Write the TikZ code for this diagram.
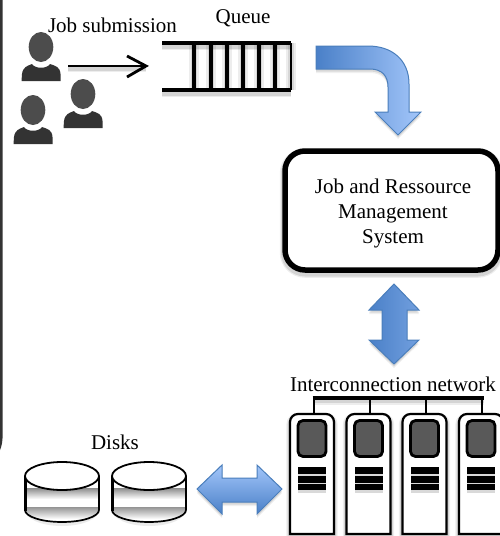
\documentclass[tikz,border=0pt]{standalone}
\usepackage{fontspec}
\setmainfont{Liberation Serif}
\usetikzlibrary{calc}
\definecolor{arrowdark}{HTML}{4A80C8}
\definecolor{arrowlight}{HTML}{A3C6FA}
\definecolor{arrowline}{HTML}{4A7EBB}
\definecolor{slate}{HTML}{595959}
\tikzset{
  lbl/.style={font=\fontsize{21}{25}\selectfont, inner sep=0pt, outer sep=0pt, align=center, text=black},
  softline/.style={
    preaction={draw=black,draw opacity=.07,line width=#1+5pt,transform canvas={yshift=-2.5pt}},
    preaction={draw=black,draw opacity=.10,line width=#1+2.5pt,transform canvas={yshift=-2.5pt}},
    line width=#1,draw=black},
  softfill/.style={
    preaction={fill=black,fill opacity=.06,transform canvas={yshift=-4pt}},
    preaction={fill=black,fill opacity=.10,transform canvas={yshift=-2.5pt}}},
  mgmtbox/.style={draw=black,fill=white,softline=5.5pt,rounded corners=20pt,minimum width=213pt,minimum height=119pt,inner sep=0pt,outer sep=0pt},
  serverslot/.style={minimum width=44pt,minimum height=120pt,inner sep=0pt,outer sep=0pt},
  serverline/.style={fill=white,softline=2.2pt,line join=miter},
  cpubox/.style={draw=black,fill=slate,line width=2.8pt,rounded corners=5pt,minimum width=28pt,minimum height=36pt,inner sep=0pt,outer sep=0pt},
  stripe/.style={fill=black,draw=none,minimum width=28pt,minimum height=#1,inner sep=0pt,outer sep=0pt,
    preaction={fill=black,fill opacity=.15,transform canvas={yshift=-2.5pt}}},
  blockarrow/.style={draw=arrowline,line width=1pt,softfill},
  bus/.style={softline=3.2pt},
  drop/.style={line width=2pt,draw=black},
  qedge/.style={softline=3.6pt,line cap=butt},
  qbar/.style={
    preaction={draw=black,draw opacity=.07,line width=#1+7pt},
    preaction={draw=black,draw opacity=.09,line width=#1+3.5pt},
    line width=#1,draw=black},
  person/.pic={
    \fill[fill=slate!85!black] (0,0) ellipse [x radius=12.3,y radius=15];
    \fill[fill=black!80] (-19.5,34) -- (-19,27) .. controls (-18,20) and (-14,19) .. (-9,17)
      .. controls (-6,22) and (6,22) .. (9,17) .. controls (15,19) and (19,20) .. (19.5,27) -- (19.5,34) -- cycle;
  }
}
\newcommand{\diskshape}[2]{% centre x, name
  \coordinate (#2) at (#1,476);
  \fill[black,opacity=.08] (#1-37,510) arc[start angle=180,end angle=0,x radius=37,y radius=16] -- (#1+37,510) -- cycle;
  \fill[white] (#1-37,476) -- (#1-37,510) arc[start angle=180,end angle=0,x radius=37,y radius=12] -- (#1+37,476) -- cycle;
  \shade[top color=black!45,bottom color=white] (#1-36,488) rectangle (#1+36,499);
  \begin{scope}
    \clip (#1-37,507) -- (#1-37,510) arc[start angle=180,end angle=0,x radius=37,y radius=12] -- (#1+37,507) -- cycle;
    \shade[top color=black!42,bottom color=white] (#1-37,507) rectangle (#1+37,519);
  \end{scope}
  \draw[line width=1.7pt] (#1-37,510) arc[start angle=180,end angle=0,x radius=37,y radius=12];
  \draw[line width=3.2pt] (#1-36.5,476) -- (#1-36.5,511);
  \draw[line width=2.2pt] (#1+37,476) -- (#1+37,510);
  \draw[fill=white,line width=1.8pt] (#1,476) ellipse[x radius=37,y radius=14];
}
\newcommand{\serverunit}[2]{% name, centre x
  \node[serverslot] (#1) at (#2,474) {};
  \draw[serverline] (#1.south west) [rounded corners=8pt] -- (#1.north west) -- (#1.north east) [sharp corners] -- (#1.south east) -- cycle;
  \node[cpubox] (#1cpu) at (#2,438.5) {};
  \node[stripe=7pt] (#1a) at (#2,470.5) {};
  \node[stripe=7pt] (#1b) at (#2,479.5) {};
  \node[stripe=6pt] (#1c) at (#2,487) {};
}
\begin{document}
\begin{tikzpicture}[x=1pt,y=-1pt]
\useasboundingbox (0,0) rectangle (500,536);
\clip (0,0) rectangle (500,536);
\fill[white] (0,0) rectangle (500,536);
% left edge of the slide
\fill[black!80] (0,0) -- (2.7,0) -- (2.7,432) .. controls (2.7,442) and (1.5,447) .. (0,450) -- cycle;
% people
\pic at (41,47) {person};
\pic at (83,94) {person};
\pic at (33,110) {person};
% labels
\node[lbl] (jobsub) at (112.5,25) {Job submission};
\node[lbl] (queuelabel) at (243,18) {Queue};
% queue
\coordinate (qtl) at (162,43);
\coordinate (qtr) at (291,43);
\coordinate (qbl) at (162,90);
\coordinate (qbr) at (291,90);
\foreach \qx in {194,211,227,243,259,275}
  \draw[qbar=3.4pt] (\qx,43) -- (\qx,90);
\draw[qbar=2.6pt] (291,43) -- (291,90);
\draw[qedge] (qtl) -- (qtr);
\draw[qedge] (qbl) -- (qbr);
% submission arrow
\coordinate (subfrom) at (68,66);
\coordinate (subto) at (146,66);
\draw[softline=2.8pt] (subfrom) -- (subto);
\draw[line width=2.8pt,line join=miter] (127,56) -- (subto) -- (127,77);
% bent arrow
\path[blockarrow,left color=arrowdark,right color=arrowlight]
  (316,46) -- (368,46) .. controls (392,46) and (409,60) .. (409,84) -- (409,112) -- (421,112) -- (398,135)
  -- (375,112) -- (388,112) -- (388,87) .. controls (388,76) and (382,69) .. (370,69) -- (316,69) -- cycle;
% management system
\node[mgmtbox] (mgmt) at (391.5,210.5) {};
\node[lbl] (mgmttext) at (393,213.5) {Job and Ressource\\Management\\System};
% vertical double arrow
\coordinate (vtop) at (394,284);
\coordinate (vbot) at (394,364);
\path[blockarrow,left color=arrowdark,right color=arrowdark!55!arrowlight]
  (vtop) -- (419,310) -- (407,310) -- (407,340) -- (419,340) -- (vbot) -- (369,340) -- (382,340) -- (382,310) -- (369,310) -- cycle;
% network
\node[lbl] (netlabel) at (393,384) {Interconnection network};
\serverunit{sa}{312}
\serverunit{sb}{368.5}
\serverunit{sc}{424.5}
\serverunit{sd}{481}
\coordinate (bl) at (312.5,398);
\coordinate (br) at (483.5,398);
\draw[drop] (sa.north) ++(2,0) -- ++(0,-16);
\draw[drop] (sb.north) ++(1.5,0) -- ++(0,-16);
\draw[drop] (sc.north) ++(1.5,0) -- ++(0,-16);
\draw[drop] (sd.north) ++(1,0) -- ++(0,-16);
\draw[bus] (bl) -- (br);
% disks
\node[lbl] (diskslabel) at (115,442) {Disks};
\diskshape{62}{diskone}
\diskshape{149}{disktwo}
% horizontal double arrow
\coordinate (hleft) at (197,489);
\coordinate (hright) at (282,489);
\path[blockarrow,top color=arrowlight,bottom color=arrowdark]
  (hleft) -- (222,465) -- (222,478) -- (257,478) -- (257,465) -- (hright) -- (257,514) -- (257,502) -- (222,502) -- (222,514) -- cycle;
\end{tikzpicture}
\end{document}
